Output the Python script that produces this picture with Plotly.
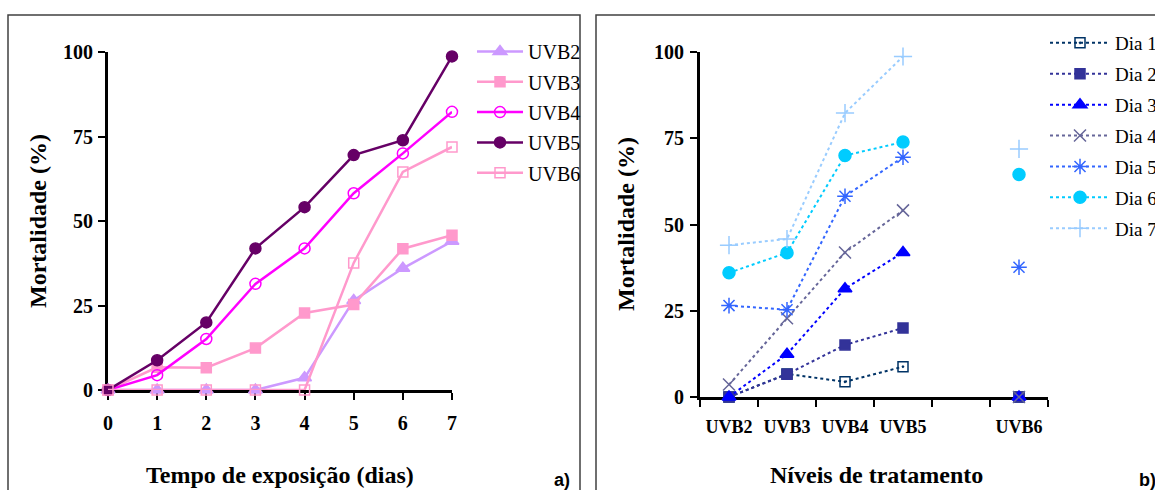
import plotly.graph_objects as go

# ---------------- data ----------------
days = [0, 1, 2, 3, 4, 5, 6, 7]
uvb2 = [0, 0, 0, 0, 3.6, 26.5, 36.0, 44.0]
uvb3 = [0, 6.7, 6.6, 12.4, 22.8, 25.3, 41.8, 45.8]
uvb4 = [0, 4.4, 15.1, 31.4, 41.9, 58.2, 70.0, 82.3]
uvb5 = [0, 8.8, 20.0, 41.9, 54.1, 69.5, 73.9, 98.7]
uvb6 = [0, 0, 0, 0, 0, 37.6, 64.5, 71.9]

series_names = ["UVB2", "UVB3", "UVB4", "UVB5", "UVB6"]
series_values = [uvb2, uvb3, uvb4, uvb5, uvb6]

treat_cats = ["UVB2", "UVB3", "UVB4", "UVB5", " ", "UVB6"]
day_names = ["Dia 1", "Dia 2", "Dia 3", "Dia 4", "Dia 5", "Dia 6", "Dia 7"]
y_ticks = [0, 25, 50, 75, 100]

# ---------------- styles ----------------
W, H = 1155, 490
SERIF = "Liberation Serif"

left_styles = {
    "UVB2": dict(color="#CC99FF", symbol="triangle-up", size=12),
    "UVB3": dict(color="#FF99CC", symbol="square", size=10),
    "UVB4": dict(color="#FF00FF", symbol="circle-open", size=11),
    "UVB5": dict(color="#660066", symbol="circle", size=11),
    "UVB6": dict(color="#FF99CC", symbol="square-open", size=10),
}
right_styles = [
    dict(color="#003366", symbol="square-open-dot", size=10),
    dict(color="#333399", symbol="square", size=10),
    dict(color="#0000FF", symbol="triangle-up", size=12),
    dict(color="#666699", symbol="x-thin-open", size=12),
    dict(color="#3366FF", symbol="asterisk-open", size=13),
    dict(color="#00CCFF", symbol="circle", size=12),
    dict(color="#99CCFF", symbol="cross-thin-open", size=13),
]

fig = go.Figure()

# left panel
for name, vals in zip(series_names, series_values):
    st = left_styles[name]
    fig.add_trace(go.Scatter(
        x=days, y=vals, name=name, mode="lines+markers",
        line=dict(color=st["color"], width=2.5),
        marker=dict(symbol=st["symbol"], size=st["size"], color=st["color"],
                    line=dict(color=st["color"], width=1.5)),
        xaxis="x", yaxis="y", cliponaxis=False,
        legend="legend", legendgroup=name,
    ))

# right panel: value of treatment k on day d (blank category has no value)
for di, dname in enumerate(day_names):
    d = di + 1
    vals = [uvb2[d], uvb3[d], uvb4[d], uvb5[d], None, uvb6[d]]
    st = right_styles[di]
    fig.add_trace(go.Scatter(
        x=treat_cats, y=vals, name=dname, mode="lines+markers",
        connectgaps=False,
        line=dict(color=st["color"], width=2, dash="dot"),
        marker=dict(symbol=st["symbol"], size=st["size"], color=st["color"],
                    line=dict(color=st["color"], width=1.5)),
        xaxis="x2", yaxis="y2", cliponaxis=False,
        legend="legend2", legendgroup=dname,
    ))

def px_x(p):
    return p / W

def px_y(p):
    return 1 - p / H

axis_common = dict(
    showgrid=False, zeroline=False, showline=True, linecolor="black",
    linewidth=3, ticks="outside", tickcolor="black", tickwidth=2,
    layer="below traces",
)
tick_font = dict(family=SERIF, size=20, color="black", weight="bold")

fig.update_layout(
    width=W, height=H,
    margin=dict(l=0, r=0, t=0, b=0, autoexpand=False),
    paper_bgcolor="white", plot_bgcolor="white",
    xaxis=dict(domain=[px_x(108), px_x(452)], range=[0, 7], tickvals=days,
               ticklen=7, anchor="y", tickfont=tick_font,
               ticklabelstandoff=6, **axis_common),
    yaxis=dict(domain=[px_y(390), px_y(52)], range=[0, 100], tickvals=y_ticks,
               ticklen=7, anchor="x", tickfont=tick_font,
               ticklabelstandoff=1, **axis_common),
    xaxis2=dict(domain=[px_x(700), px_x(1048)], type="category",
                categoryorder="array", categoryarray=treat_cats,
                range=[-0.5, 5.5], tickson="boundaries", ticklen=7, anchor="y2",
                tickfont=dict(family=SERIF, size=18, color="black", weight="bold"),
                ticklabelstandoff=11, **axis_common),
    yaxis2=dict(domain=[px_y(397), px_y(52)], range=[0, 100], tickvals=y_ticks,
                ticklen=7, anchor="x2", tickfont=tick_font,
                ticklabelstandoff=2, **axis_common),
    legend=dict(x=px_x(472), y=px_y(32), xanchor="left", yanchor="top",
                font=dict(family=SERIF, size=20, color="black"),
                itemwidth=46, tracegroupgap=1.3, bgcolor="rgba(0,0,0,0)",
                traceorder="grouped"),
    legend2=dict(x=px_x(1045), y=px_y(24), xanchor="left", yanchor="top",
                 font=dict(family=SERIF, size=19, color="black"),
                 itemwidth=60, tracegroupgap=3.2, bgcolor="rgba(0,0,0,0)",
                 traceorder="grouped"),
    showlegend=True,
)

# panel frames
fig.add_shape(type="rect", xref="paper", yref="paper",
              x0=px_x(8), x1=px_x(580), y0=px_y(500), y1=px_y(15),
              line=dict(color="#404040", width=1.5), layer="below")
fig.add_shape(type="rect", xref="paper", yref="paper",
              x0=px_x(596), x1=px_x(1170), y0=px_y(500), y1=px_y(15),
              line=dict(color="#404040", width=1.5), layer="below")

title_font = dict(family=SERIF, size=24, color="black", weight="bold")
annots = [
    dict(text="Mortalidade (%)", x=px_x(38), y=px_y(221), textangle=-90),
    dict(text="Tempo de exposição (dias)", x=px_x(280), y=px_y(475), textangle=0),
    dict(text="Mortalidade (%)", x=px_x(626), y=px_y(224), textangle=-90),
    dict(text="Níveis de tratamento", x=px_x(876), y=px_y(475), textangle=0),
]
for a in annots:
    fig.add_annotation(xref="paper", yref="paper", showarrow=False,
                       xanchor="center", yanchor="middle", font=title_font, **a)

for lab, xc in [("a)", 562), ("b)", 1147)]:
    fig.add_annotation(text=lab, xref="paper", yref="paper", showarrow=False,
                       x=px_x(xc), y=px_y(480), xanchor="center", yanchor="middle",
                       font=dict(family="Liberation Sans", size=18, color="black",
                                 weight="bold"))

fig.write_html("out.html")
